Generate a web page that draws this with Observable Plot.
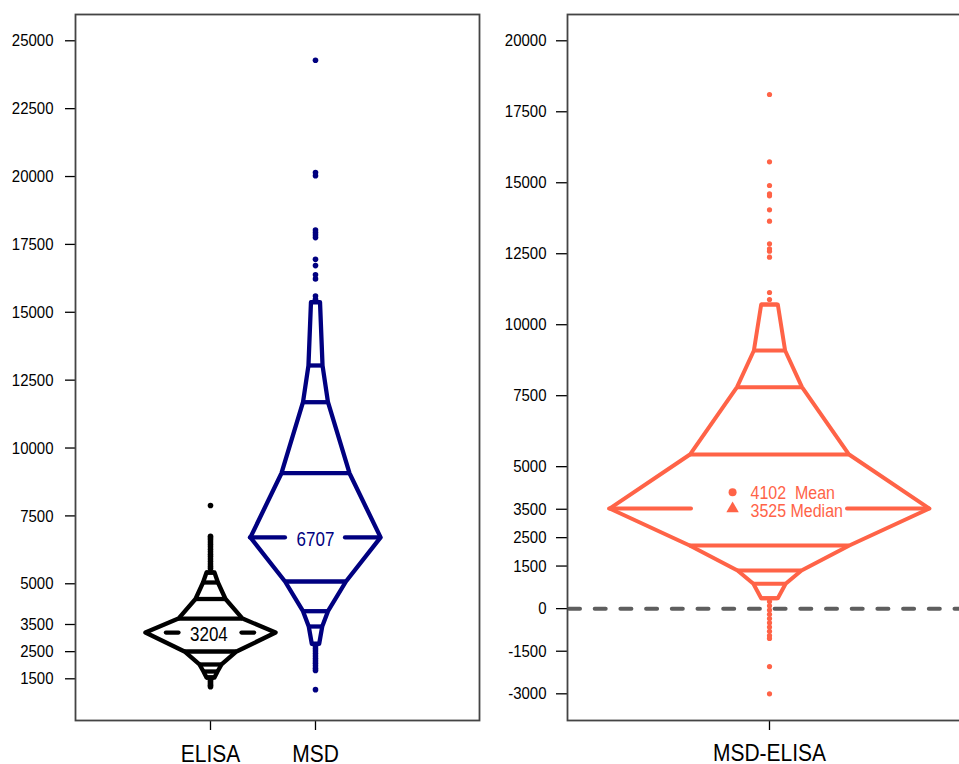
<!DOCTYPE html>
<html><head><meta charset="utf-8">
<script src="https://cdn.jsdelivr.net/npm/d3@7"></script>
<script src="https://cdn.jsdelivr.net/npm/@observablehq/plot@0.6"></script>
<style>
body{margin:0;background:#fff;overflow:hidden}
#wrap{position:relative;width:959px;height:764px;overflow:hidden;background:#fff}
#left,#right{position:absolute;top:0}
#left{left:0;width:480px}
#right{left:480px;width:491px}
svg{font-family:"Liberation Sans",Arial,Helvetica,sans-serif;overflow:visible;max-width:none !important}
</style></head><body><div id="wrap"><div id="left"></div><div id="right"></div></div>
<script>
// ---------- data ----------
const leftCategories = ["ELISA", "MSD"];
const leftTicks = [1500, 2500, 3500, 5000, 7500, 10000, 12500, 15000, 17500, 20000, 22500, 25000];
const rightCategories = ["MSD-ELISA"];
const rightTicks = [-3000, -1500, 0, 1500, 2500, 3500, 5000, 7500, 10000, 12500, 15000, 17500, 20000];

// ELISA letter values (median, upper levels, lower levels) and relative box widths
const elisaMedian = 3204;
const elisaMedianWidth = 0.62;
const elisaUpper = [3718, 4439, 5047, 5415];
const elisaUpperWidths = [0.305, 0.143, 0.071, 0.038];
const elisaLower = [2506, 2027, 1769, 1548];
const elisaLowerWidths = [0.248, 0.105, 0.067, 0.038];
const elisaOutliers = [7883, 6750, 6690, 6620, 6540, 6450, 6360, 6270, 6180, 6090, 6000, 5910, 5820, 5730, 5640, 5560,
  1500, 1440, 1380, 1320, 1260, 1210];

// MSD
const msdMedian = 6707;
const msdMedianWidth = 0.62;
const msdUpper = [9073, 11688, 13040, 15372];
const msdUpperWidths = [0.324, 0.119, 0.067, 0.043];
const msdLower = [5084, 3990, 3426, 2789];
const msdLowerWidths = [0.29, 0.119, 0.064, 0.035];
const msdOutliers = [24285, 20150, 20030, 18030, 17940, 17850, 17750, 16950, 16720, 16380, 16230, 15600, 15480,
  2700, 2610, 2520, 2430, 2340, 2250, 2160, 2070, 1980, 1890, 1810, 1100];

// MSD - ELISA difference
const diffMedian = 3525;
const diffMean = 4102;
const diffMedianWidth = 0.615;
const diffUpper = [5428, 7799, 9091, 10711];
const diffUpperWidths = [0.306, 0.125, 0.06, 0.032];
const diffLower = [2223, 1342, 874, 366];
const diffLowerWidths = [0.307, 0.123, 0.062, 0.032];
const diffOutliers = [18108, 15738, 14903, 14611, 14540, 14047, 13646, 12850, 12673, 12589, 12378, 11134, 10888,
  250, 100, -50, -200, -350, -500, -650, -800, -950, -1050, -2040, -3000];

// ---------- helpers ----------
function buildBox(name, center, median, mw, up, uw, lo, lw) {
  const ring = [];
  for (let i = lo.length - 1; i >= 0; i--) ring.push({g: name, x: center - lw[i], y: lo[i]});
  ring.push({g: name, x: center - mw, y: median});
  for (let i = 0; i < up.length; i++) ring.push({g: name, x: center - uw[i], y: up[i]});
  for (let i = up.length - 1; i >= 0; i--) ring.push({g: name, x: center + uw[i], y: up[i]});
  ring.push({g: name, x: center + mw, y: median});
  for (let i = 0; i < lo.length; i++) ring.push({g: name, x: center + lw[i], y: lo[i]});
  ring.push({...ring[0]});
  const levels = [];
  up.forEach((v, i) => levels.push({y: v, x1: center - uw[i], x2: center + uw[i]}));
  lo.forEach((v, i) => levels.push({y: v, x1: center - lw[i], x2: center + lw[i]}));
  return {ring, levels};
}
function medianSegs(center, median, gap, reach) {
  return [
    {y: median, x1: center - reach, x2: center - gap},
    {y: median, x1: center + gap, x2: center + reach}
  ];
}
// stretch text glyphs vertically about their own centre (reference font is tall and narrow)
function stretchText(svg, k) {
  const ns = "http://www.w3.org/2000/svg";
  svg.querySelectorAll("text").forEach(t => {
    let b;
    try { b = t.getBBox(); } catch (e) { return; }
    if (!b || !isFinite(b.y)) return;
    const cy = b.y + b.height / 2;
    const g = document.createElementNS(ns, "g");
    const tr = t.getAttribute("transform");
    if (tr) g.setAttribute("transform", tr);
    t.parentNode.insertBefore(g, t);
    g.appendChild(t);
    t.setAttribute("transform", `translate(0,${cy}) scale(1,${k}) translate(0,${-cy})`);
  });
}

const navy = "#000080", tomato = "#FF6347";
const elisa = buildBox("ELISA", 1, elisaMedian, elisaMedianWidth, elisaUpper, elisaUpperWidths, elisaLower, elisaLowerWidths);
const msd = buildBox("MSD", 2, msdMedian, msdMedianWidth, msdUpper, msdUpperWidths, msdLower, msdLowerWidths);
const diff = buildBox("DIFF", 1, diffMedian, diffMedianWidth, diffUpper, diffUpperWidths, diffLower, diffLowerWidths);

const axisText = {fontSize: 15, fill: "#000"};

// ---------- left panel ----------
const lw = 4.3;
const left = Plot.plot({
  width: 480, height: 764,
  marginLeft: 75, marginRight: 1, marginTop: 14, marginBottom: 44,
  x: {domain: [-0.2857, 3.562], axis: null},
  y: {domain: [-36, 25968], axis: null},
  marks: [
    Plot.axisY({ticks: leftTicks, tickSize: 10, tickPadding: 12, tickFormat: d => String(d), strokeWidth: 1.3, ...axisText, label: null}),
    Plot.axisX({ticks: [1, 2], tickFormat: d => leftCategories[d - 1], tickSize: 10, tickPadding: 15, strokeWidth: 1.3, fontSize: 21, fill: "#000", label: null}),
    Plot.line(elisa.ring, {x: "x", y: "y", z: "g", stroke: "#000", strokeWidth: lw, strokeLinejoin: "round"}),
    Plot.ruleY(elisa.levels, {y: "y", x1: "x1", x2: "x2", stroke: "#000", strokeWidth: lw}),
    Plot.ruleY(medianSegs(1, elisaMedian, 0.30, 0.42), {y: "y", x1: "x1", x2: "x2", stroke: "#000", strokeWidth: lw, strokeLinecap: "round"}),
    Plot.dot(elisaOutliers, {x: () => 1, y: d => d, r: 2.8, fill: "#000", stroke: null}),
    Plot.text([elisaMedian], {x: () => 0.985, y: d => d, text: d => String(d), fontSize: 17, fill: "#000", dy: 2}),
    Plot.line(msd.ring, {x: "x", y: "y", z: "g", stroke: navy, strokeWidth: lw, strokeLinejoin: "round"}),
    Plot.ruleY(msd.levels, {y: "y", x1: "x1", x2: "x2", stroke: navy, strokeWidth: lw}),
    Plot.ruleY(medianSegs(2, msdMedian, 0.286, msdMedianWidth), {y: "y", x1: "x1", x2: "x2", stroke: navy, strokeWidth: lw, strokeLinecap: "round"}),
    Plot.dot(msdOutliers, {x: () => 2, y: d => d, r: 2.8, fill: navy, stroke: null}),
    Plot.text([msdMedian], {x: () => 2, y: d => d, text: d => String(d), fontSize: 17, fill: navy, dy: 2}),
    Plot.frame({stroke: "#444", strokeWidth: 1.8})
  ]
});
document.getElementById("left").appendChild(left);
stretchText(left, 1.15);

// ---------- right panel ----------
const rw = 4;
const right = Plot.plot({
  width: 491, height: 764,
  marginLeft: 87, marginRight: 0, marginTop: 14, marginBottom: 44,
  x: {domain: [0.2231, 1.7769], axis: null},
  y: {domain: [-3940, 20926], axis: null},
  marks: [
    Plot.axisY({ticks: rightTicks, tickSize: 11, tickPadding: 10, tickFormat: d => String(d), strokeWidth: 1.3, ...axisText, label: null}),
    Plot.axisX({ticks: [1], tickFormat: d => rightCategories[d - 1], tickSize: 10, tickPadding: 15, strokeWidth: 1.3, fontSize: 21, fill: "#000", label: null}),
    Plot.ruleY([0], {stroke: "#5e5e5e", strokeWidth: 4, strokeDasharray: "11,14.7", strokeLinecap: "round", strokeDashoffset: -2}),
    Plot.line(diff.ring, {x: "x", y: "y", z: "g", stroke: tomato, strokeWidth: rw, strokeLinejoin: "round"}),
    Plot.ruleY(diff.levels, {y: "y", x1: "x1", x2: "x2", stroke: tomato, strokeWidth: rw}),
    Plot.ruleY(medianSegs(1, diffMedian, 0.30, diffMedianWidth), {y: "y", x1: "x1", x2: "x2", stroke: tomato, strokeWidth: rw, strokeLinecap: "round"}),
    Plot.dot(diffOutliers, {x: () => 1, y: d => d, r: 2.6, fill: tomato, stroke: null}),
    Plot.dot([diffMean], {x: () => 0.858, y: d => d, r: 4, fill: tomato, stroke: null}),
    Plot.dot([diffMedian], {x: () => 0.858, y: d => d, r: 4.6, symbol: "triangle", fill: tomato, stroke: null}),
    Plot.text([diffMean], {x: () => 0.927, y: d => d, text: d => d + "\u00a0\u00a0Mean", fontSize: 16, textAnchor: "start", fill: tomato, dy: 1}),
    Plot.text([diffMedian], {x: () => 0.927, y: d => d, text: d => d + " Median", fontSize: 16, textAnchor: "start", fill: tomato, dy: 3}),
    Plot.frame({stroke: "#444", strokeWidth: 1.8})
  ]
});
document.getElementById("right").appendChild(right);
stretchText(right, 1.12);
</script></body></html>
